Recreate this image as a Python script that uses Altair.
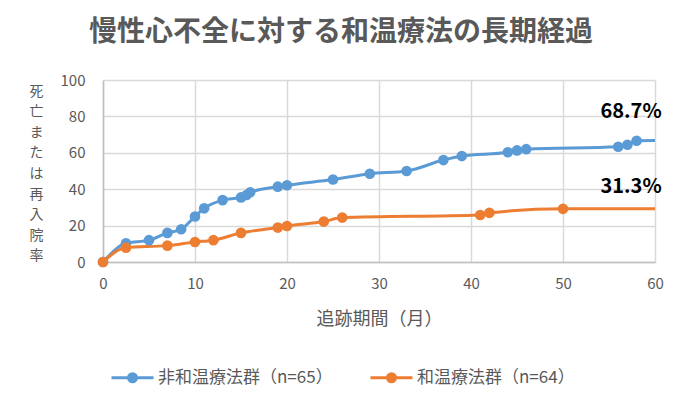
import altair as alt
import pandas as pd

# ---- data ----
series_names = ["非和温療法群（n=65）", "和温療法群（n=64）"]
series_colors = ["#5B9BD5", "#ED7D31"]

blue_x = [0, 2.5, 5, 7, 8.5, 10, 11, 13, 15, 15.6, 16, 19, 20, 25, 29, 33, 37, 39, 44, 45, 46, 56, 57, 58, 60]
blue_y = [0, 10.3, 12, 16, 18, 25, 29.5, 34, 35.5, 36.8, 38.3, 41.4, 42.2, 45.3, 48.5, 50, 56, 58.2, 60.3, 61.3, 62, 63.3, 64.4, 66.6, 66.7]
blue_marker = [True] * 24 + [False]

orange_x = [0, 2.5, 7, 10, 12, 15, 19, 20, 24, 26, 41, 42, 50, 60]
orange_y = [0, 7.9, 9, 11, 12, 16, 18.9, 19.8, 22.2, 24.4, 25.8, 27, 29.2, 29.2]
orange_marker = [True] * 13 + [False]

label_text = ["68.7%", "31.3%"]
label_x = [57.4, 57.4]
label_y = [82.3, 41.0]

x_ticks = [0, 10, 20, 30, 40, 50, 60]
y_ticks = [0, 20, 40, 60, 80, 100]

title_text = "慢性心不全に対する和温療法の長期経過"
x_title = "追跡期間（月）"
y_title = "死亡または再入院率"

# ---- tables ----
df = pd.concat([
    pd.DataFrame({"x": blue_x, "y": blue_y, "marker": blue_marker, "series": series_names[0]}),
    pd.DataFrame({"x": orange_x, "y": orange_y, "marker": orange_marker, "series": series_names[1]}),
], ignore_index=True)
labels = pd.DataFrame({"x": label_x, "y": label_y, "text": label_text})

GRAY = "#595959"
FONT = "Noto Sans CJK JP"

color_scale = alt.Scale(domain=series_names, range=series_colors)
xs = alt.Scale(domain=[0, 60], nice=False)
ys = alt.Scale(domain=[0, 100], nice=False)

legend_path = (
    "M-1,0L1,0"
    "M0.19,0A0.19,0.19,0,1,1,-0.19,0A0.19,0.19,0,1,1,0.19,0"
    "M0.12,0A0.12,0.12,0,1,1,-0.12,0A0.12,0.12,0,1,1,0.12,0"
    "M0.05,0A0.05,0.05,0,1,1,-0.05,0A0.05,0.05,0,1,1,0.05,0"
)

x_axis = alt.Axis(
    values=x_ticks, title=x_title, grid=True, ticks=False,
    labelFontSize=15, labelColor=GRAY, labelPadding=14,
    labelFlush=False, labelOverlap=False,
    titleFontSize=18, titleColor=GRAY, titleFontWeight="normal",
    titleY=57, titleBaseline="middle",
)
y_axis = alt.Axis(
    values=y_ticks, title=list(y_title), grid=True, ticks=False,
    labelFontSize=15, labelColor=GRAY, labelPadding=18,
    labelFlush=False, labelOverlap=False,
    titleFontSize=14, titleColor=GRAY, titleFontWeight="normal",
    titleAngle=0, titleAlign="center", titleBaseline="top",
    titleX=-67, titleY=4, titleLineHeight=20.6,
)


def xe():
    return alt.X("x:Q", scale=xs, axis=x_axis)


def ye():
    return alt.Y("y:Q", scale=ys, axis=y_axis)


lines = alt.Chart(df).mark_line(strokeWidth=3, interpolate="monotone").encode(
    x=xe(), y=ye(),
    color=alt.Color("series:N", scale=color_scale, legend=alt.Legend(
        title=None, orient="none", direction="horizontal",
        legendX=7, legendY=275,
        symbolType=legend_path, symbolSize=1764, symbolStrokeWidth=3,
        labelFontSize=17, labelColor=GRAY, labelOffset=3, columnPadding=31,
        labelLimit=400,
    )),
    detail="series:N",
    order="x:Q",
)

points = alt.Chart(df).transform_filter("datum.marker").mark_point(
    filled=True, size=113, opacity=1
).encode(
    x=xe(), y=ye(),
    color=alt.Color("series:N", scale=color_scale, legend=None),
)

texts = alt.Chart(labels).mark_text(fontSize=20, fontWeight="bold", color="black",
                                    align="center", baseline="middle").encode(
    x=xe(), y=ye(), text="text:N",
)

chart = alt.layer(lines, points, texts).properties(
    width=552, height=182,
    padding={"left": 95, "top": 72, "right": 16, "bottom": 127},
    autosize=alt.AutoSizeParams(type="none"),
    title=alt.TitleParams(
        title_text, fontSize=28, fontWeight="bold", color=GRAY,
        anchor="middle", dx=-38, offset=26, font=FONT,
    ),
).configure(
    font=FONT,
).configure_axis(
    gridColor="#d9d9d9", gridWidth=1.5, domainColor="#bfbfbf", domainWidth=1.5,
    labelOverlap=False,
).configure_view(
    stroke=None,
)

chart.save("out.html", embed_options={"renderer": "svg", "actions": False})
